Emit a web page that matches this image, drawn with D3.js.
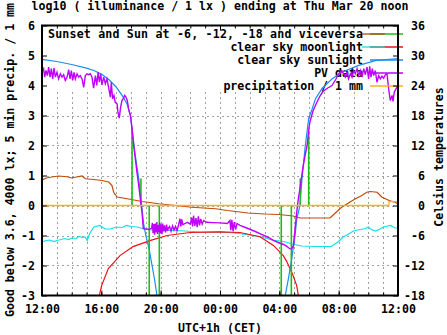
<!DOCTYPE html>
<html>
<head>
<meta charset="utf-8">
<script src="https://cdn.jsdelivr.net/npm/d3@7"></script>
<style>
  html, body { margin: 0; padding: 0; background: #fff; }
  svg { display: block; }
  text { font-family: "DejaVu Sans Mono", "Liberation Mono", monospace; font-weight: bold; font-size: 11.6px; fill: #000; }
</style>
</head>
<body>
<script>
// ---------------- data (hours after Wed 12:00) ----------------
const titleText = "log10 ( illuminance / 1 lx ) ending at Thu Mar 20 noon";
const xTickHours = [0, 4, 8, 12, 16, 20, 24];
const xTickLabels = ["12:00", "16:00", "20:00", "00:00", "04:00", "08:00", "12:00"];
const yTicks = [-3, -2, -1, 0, 1, 2, 3, 4, 5, 6];
const y2Ticks = [-18, -12, -6, 0, 6, 12, 18, 24, 30, 36];

// log10 illuminance, PV data
const pvData = [
[0.00,4.44],[0.11,4.56],[0.18,4.28],[0.27,4.5],[0.36,4.33],[0.45,4.61],[0.54,4.28],[0.63,4.56],[0.72,4.22],[0.81,4.58],
[0.9,4.28],[1.01,4.44],[1.12,4.22],[1.24,4.39],[1.35,4.28],[1.46,4.36],[1.57,4.17],[1.69,4.28],[1.8,4.53],[1.89,4.22],
[1.98,4.5],[2.07,4.17],[2.16,4.44],[2.25,4.22],[2.36,4.39],[2.47,4.28],[2.58,4.33],[2.7,4.22],[2.81,3.94],[2.92,4.33],
[3.03,4.39],[3.15,4.36],[3.26,4.39],[3.37,4.28],[3.48,3.91],[3.6,4.33],[3.69,4.0],[3.78,4.44],[3.87,4.11],[3.96,4.39],
[4.04,4.02],[4.16,4.28],[4.27,4.06],[4.38,4.22],[4.49,3.94],[4.61,3.61],[4.67,4.11],[4.76,3.56],[4.85,3.67],[4.94,3.44],
[5.06,3.39],[5.12,3.11],[5.21,2.91],[5.3,3.28],[5.39,3.5],[5.48,3.56],[5.57,3.67],[5.66,3.61],[5.75,3.5],[5.84,3.22],
[5.96,3.0],[6.07,2.56],[6.18,2.0],[6.29,1.56],[6.4,1.11],[6.52,0.67],[6.63,0.22],[6.74,-0.22],[6.83,-0.77],[7.0,-0.78],
[7.2,-0.8],[7.39,-0.76],[7.44,-0.58],[7.49,-0.92],[7.54,-0.62],[7.59,-0.97],[7.64,-0.6],[7.69,-0.9],[7.74,-0.55],[7.79,-0.95],
[7.84,-0.65],[7.89,-0.88],[7.94,-0.58],[7.99,-0.93],[8.04,-0.63],[8.09,-0.96],[8.14,-0.6],[8.19,-0.86],[8.26,-0.66],[8.33,-0.9],
[8.4,-0.64],[8.46,-0.85],[8.52,-0.75],[8.6,-0.7],[8.7,-0.86],[8.8,-0.68],[8.9,-0.82],[9.0,-0.7],[9.1,-0.84],[9.2,-0.66],
[9.3,-0.44],[9.36,-0.7],[9.42,-0.46],[9.5,-0.64],[9.64,-0.6],[9.8,-0.56],[10.0,-0.62],[10.09,-0.4],[10.15,-0.7],[10.22,-0.34],
[10.3,-0.68],[10.38,-0.42],[10.46,-0.72],[10.54,-0.36],[10.62,-0.66],[10.7,-0.45],[10.8,-0.62],[10.9,-0.5],[11.1,-0.56],[11.5,-0.57],
[12.0,-0.58],[12.5,-0.6],[12.67,-0.5],[12.73,-0.82],[12.8,-0.48],[12.88,-0.86],[12.96,-0.55],[13.05,-0.8],[13.15,-0.6],[13.35,-0.66],
[13.8,-0.75],[14.3,-0.85],[14.8,-0.96],[15.2,-1.05],[15.6,-1.16],[16.0,-1.25],[16.3,-1.3],[16.5,-1.36],[16.7,-1.44],[16.83,-1.45],
[16.95,-1.33],[17.06,-0.78],[17.17,-0.23],[17.28,0.22],[17.4,0.6],[17.5,0.95],[17.6,1.3],[17.73,1.65],[17.87,2.0],[18.0,2.6],
[18.07,2.8],[18.27,3.15],[18.54,3.45],[18.74,3.65],[18.94,3.8],[19.21,3.9],[19.55,4.0],[19.8,4.2],[20.0,4.39],[20.2,4.5],
[20.45,4.28],[20.56,4.44],[20.67,4.22],[20.79,4.39],[20.9,4.28],[21.01,4.5],[21.12,4.39],[21.24,4.56],[21.35,4.33],[21.46,4.5],
[21.57,4.28],[21.69,4.56],[21.8,4.36],[21.91,4.61],[22.02,4.22],[22.09,4.64],[22.18,4.28],[22.27,4.56],[22.36,4.33],[22.47,4.5],
[22.58,4.11],[22.7,4.33],[22.81,4.22],[22.92,4.31],[23.03,4.24],[23.15,4.36],[23.26,4.39],[23.37,3.89],[23.48,3.5],[23.6,3.67],
[23.66,3.47],[23.75,3.78],[23.87,3.89],[24.0,4.0]
];

// clear sky sunlight (log10 lx)
const sunlightEvening = [
[0,4.87],[1,4.8],[2,4.7],[3,4.58],[3.5,4.5],[4,4.38],[4.5,4.2],[5,3.95],[5.4,3.67],[5.73,3.39],[5.96,3.0],
[6.07,2.56],[6.29,1.67],[6.52,0.89],[6.72,0],[6.85,-0.6],[7.0,-1.0],[7.2,-1.4],[7.42,-2.0],[7.6,-2.5],[7.78,-3.1]
];
const sunlightMorning = [
[16.36,-3.1],[16.6,-2.47],[16.83,-1.8],[17.06,-1.0],[17.17,-0.47],[17.39,0],[17.53,0.89],[17.75,2.0],[17.98,2.9],
[18.2,3.2],[18.43,3.55],[18.88,3.9],[19.55,4.22],[20.2,4.44],[21.35,4.67],[22.47,4.83],[24,4.9]
];

// clear sky moonlight (log10 lx)
const moonlight = [
[3.84,-3.05],[4.02,-2.67],[4.47,-2.1],[5.26,-1.67],[6.14,-1.37],[7.28,-1.17],[8.43,-1.0],[9.98,-0.9],[12,-0.88],
[13.35,-0.9],[14.7,-1.04],[15.6,-1.33],[16.27,-1.67],[16.5,-1.87],[16.9,-2.3],[17.17,-2.67],[17.3,-3.05]
];

// sunset and sun at -6, -12, -18 and viceversa (impulse heights)
const sunEvents = [[6.07,2.6],[6.67,0.9],[7.23,-3],[7.91,-3],[16.13,-3],[16.81,-3],[17.41,0.9],[17.98,2.5]];

// precipitation / 1 mm
const precipitation = [[0,0],[23.38,0],[23.4,0.13],[24,0.13]];

// temperature (Celsius)
const temperature = [
[0,5.1],[0.3,5.5],[0.67,5.7],[1.12,5.9],[1.7,5.75],[2.0,5.5],[2.25,5.65],[2.7,5.9],[2.92,5.35],[3.5,5.2],
[4.04,5.0],[4.49,4.7],[4.72,4.0],[4.83,2.65],[5.06,1.7],[5.84,1.3],[6.74,0.8],[7.87,0.35],[9.0,0],[10.1,-0.35],
[11.7,-0.65],[12.5,-1.0],[13.9,-1.5],[15.0,-1.7],[16.0,-1.8],[16.93,-2.1],[17.4,-2.5],[19.42,-2.5],[19.7,-1.7],[20.2,-0.35],
[21.1,1.3],[21.5,1.9],[21.9,2.65],[22.1,2.8],[22.6,2.65],[22.9,1.7],[23.4,1.0],[23.8,0.65],[24,0.3]
];

// second temperature-axis series (cyan, Celsius)
const dewPoint = [
[0,-7.3],[0.3,-7.0],[0.5,-6.9],[0.8,-7.2],[1,-7.0],[1.3,-6.8],[1.5,-6.6],[1.8,-6.8],[2,-6.5],[2.3,-6.6],
[2.5,-6.2],[2.7,-6.4],[2.9,-6.3],[3.05,-7.0],[3.2,-5.7],[3.5,-4.3],[3.9,-4.0],[4.25,-4.7],[4.6,-4.7],[5.0,-4.3],
[5.4,-4.4],[5.7,-4.0],[6.0,-4.2],[6.4,-4.3],[6.94,-4.7],[7.7,-5.0],[9.1,-5.0],[10.65,-5.3],[12,-5.3],[13,-5.5],
[14,-5.9],[14.8,-6.3],[15.5,-6.9],[16.3,-7.2],[17,-7.8],[17.5,-8.1],[18.5,-8.2],[19.5,-8.2],[19.8,-7.6],[20,-7.2],
[20.3,-6.3],[20.5,-6.0],[21,-5.1],[21.3,-4.9],[21.5,-4.8],[21.8,-4.6],[22,-4.3],[22.2,-4.8],[22.5,-5.1],[22.8,-4.7],
[23,-4.3],[23.3,-4.1],[23.5,-4.0],[23.8,-4.5],[24,-4.5]
];

const legendMain = ["Sunset and Sun at -6, -12, -18 and viceversa", "clear sky moonlight", "clear sky sunlight", "PV data", "precipitation / 1 mm"];

// ---------------- drawing ----------------
const W = 447, H = 335;
const L = 42, R = 398, T = 25.5, B = 295.5;
const C = { temp: "#c04a0a", dew: "#10e0e8", sun: "#1a8cf0", moon: "#f01010", green: "#18c018", pv: "#c000ff", rain: "#ffb018", grid: "#a0a0a0" };

const svg = d3.select("body").append("svg").attr("width", W).attr("height", H);
const x = d3.scaleLinear().domain([0, 24]).range([L, R]);
const y = d3.scaleLinear().domain([-3, 6]).range([B, T]);
const y2 = d3.scaleLinear().domain([-18, 36]).range([B, T]);

svg.append("defs").append("clipPath").attr("id", "plot")
  .append("rect").attr("x", L).attr("y", T).attr("width", R - L).attr("height", B - T);

// grid
const legendBottom = 92;
const g = svg.append("g").attr("stroke", C.grid).attr("stroke-dasharray", "2,3").attr("shape-rendering", "crispEdges");
g.selectAll(".vg").data(d3.range(1, 24)).join("line")
  .attr("x1", d => Math.round(x(d)) + 0.5).attr("x2", d => Math.round(x(d)) + 0.5)
  .attr("y1", legendBottom).attr("y2", B);
g.selectAll(".hg").data(d3.range(-2, 4)).join("line")
  .attr("x1", L).attr("x2", R)
  .attr("y1", d => Math.round(y(d)) + 0.5).attr("y2", d => Math.round(y(d)) + 0.5);

// legend texts
const rowY = i => 38 + i * 13;
svg.append("text").attr("x", 48).attr("y", rowY(0)).attr("textLength", 315).attr("lengthAdjust", "spacing").text(legendMain[0]);
legendMain.slice(1).forEach((t, i) => {
  svg.append("text").attr("x", 363).attr("y", rowY(i + 1)).attr("text-anchor", "end").text(t);
});

// data
const plot = svg.append("g").attr("clip-path", "url(#plot)");
const line = d3.line().x(d => x(d[0])).y(d => y(d[1]));
const line2 = d3.line().x(d => x(d[0])).y(d => y2(d[1]));

plot.append("path").datum(temperature).attr("d", line2).attr("fill", "none").attr("stroke", C.temp).attr("stroke-width", 1.2);
plot.append("path").datum(dewPoint).attr("d", line2).attr("fill", "none").attr("stroke", C.dew).attr("stroke-width", 1.2);
plot.append("path").datum(moonlight).attr("d", line).attr("fill", "none").attr("stroke", C.moon).attr("stroke-width", 1.2);
[sunlightEvening, sunlightMorning].forEach(s =>
  plot.append("path").datum(s).attr("d", line).attr("fill", "none").attr("stroke", C.sun).attr("stroke-width", 1.2));
plot.selectAll(".imp").data(sunEvents).join("line")
  .attr("x1", d => x(d[0])).attr("x2", d => x(d[0]))
  .attr("y1", y(0)).attr("y2", d => y(d[1]))
  .attr("stroke", C.green).attr("stroke-width", 1.6);
plot.append("path").datum(pvData).attr("d", line).attr("fill", "none").attr("stroke", C.pv).attr("stroke-width", 1.4);
plot.append("path").datum(precipitation).attr("d", line).attr("fill", "none").attr("stroke", C.rain).attr("stroke-width", 1.3);

// legend samples
const sy = i => rowY(i) - 4;
const samp = (x1, x2, yy, col, w) => svg.append("line").attr("x1", x1).attr("x2", x2).attr("y1", yy).attr("y2", yy).attr("stroke", col).attr("stroke-width", w || 1.3);
samp(370, 403, sy(0), C.green, 1.6);
samp(362, 385, sy(0), C.temp);
samp(370, 403, sy(1), C.moon);
samp(362, 385, sy(1), C.dew);
samp(370, 403, sy(2), C.sun);
samp(370, 403, sy(3), C.pv, 1.4);
samp(370, 403, sy(4), C.rain);

// axes
function styleAxis(sel) {
  sel.attr("font-family", null).attr("font-size", null);
  sel.select(".domain").remove();
  sel.selectAll("line").attr("stroke", "#000");
}
const hours = d3.range(0, 25);
svg.append("g").attr("transform", `translate(0,${B})`)
  .call(d3.axisBottom(x).tickValues(hours).tickSize(-3).tickFormat("")).call(styleAxis);
svg.append("g").attr("transform", `translate(0,${T})`)
  .call(d3.axisTop(x).tickValues(hours).tickSize(-3).tickFormat("")).call(styleAxis);
svg.append("g").attr("transform", `translate(0,${T})`)
  .call(d3.axisTop(x).tickValues(xTickHours).tickSize(-5).tickFormat("")).call(styleAxis);
svg.append("g").attr("transform", `translate(0,${B})`)
  .call(d3.axisBottom(x).tickValues(xTickHours).tickSize(-5).tickPadding(9.3)
    .tickFormat((d, i) => xTickLabels[i])).call(styleAxis);
svg.append("g").attr("transform", `translate(${L},0)`)
  .call(d3.axisLeft(y).tickValues(yTicks).tickSize(-5).tickPadding(7).tickFormat(d3.format("d"))).call(styleAxis);
const ax2 = svg.append("g").attr("transform", `translate(${R},0)`)
  .call(d3.axisRight(y2).tickValues(y2Ticks).tickSize(-5).tickFormat(d3.format("d"))).call(styleAxis);
ax2.selectAll("text").attr("text-anchor", "end").attr("x", 27);
svg.selectAll(".tick text").text(function () { return this.textContent.replace("\u2212", "-"); });

// border
svg.append("rect").attr("x", L).attr("y", T).attr("width", R - L).attr("height", B - T)
  .attr("fill", "none").attr("stroke", "#000").attr("stroke-width", 2);

// titles
svg.append("text").attr("x", 220).attr("y", 10).attr("text-anchor", "middle").text(titleText);
svg.append("text").attr("x", 220).attr("y", 332).attr("text-anchor", "middle").text("UTC+1h (CET)");
svg.append("text").attr("transform", "translate(13.5,160) rotate(-90)").attr("text-anchor", "middle")
  .text("Good below 3.6, 4000 lx; 5 min precip. / 1 mm");
svg.append("text").attr("transform", "translate(443,157) rotate(-90)").attr("text-anchor", "middle")
  .text("Celsius temperatures");
</script>
</body>
</html>
